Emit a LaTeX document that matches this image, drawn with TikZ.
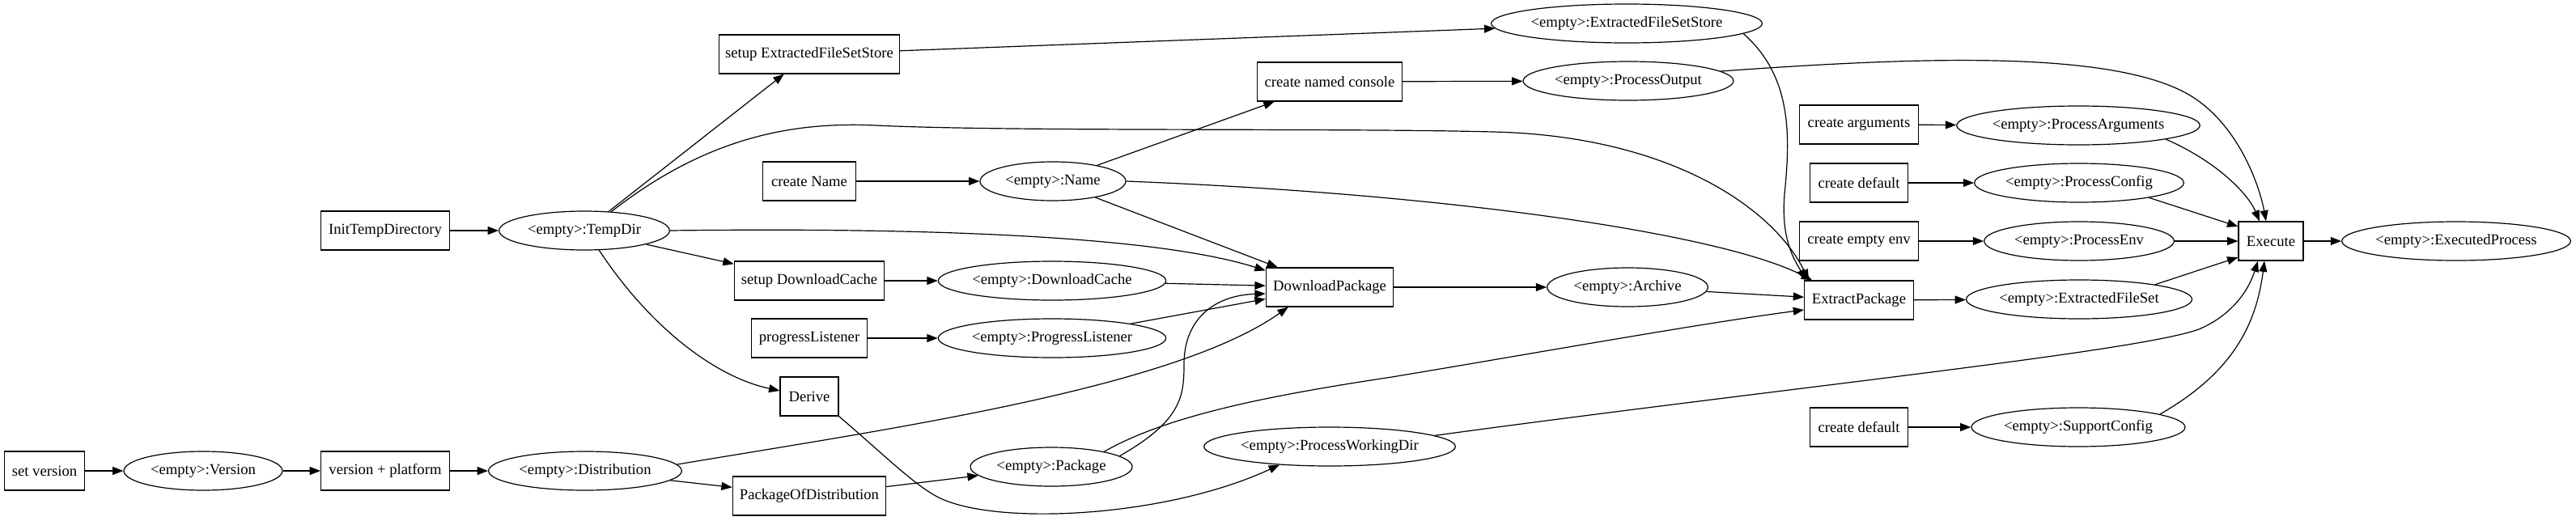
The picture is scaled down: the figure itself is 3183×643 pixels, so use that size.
\documentclass[tikz,border=0pt]{standalone}
\usepackage{fontspec}
\setmainfont{Liberation Serif}
\usetikzlibrary{shapes.geometric,arrows.meta,calc}
\begin{document}
\begin{tikzpicture}[x=0.75pt,y=-0.75pt,
  bx/.style={draw,rectangle,line width=0.9pt,minimum height=36pt,inner sep=0pt,font=\fontsize{14pt}{16pt}\selectfont},
  el/.style={draw,ellipse,line width=0.9pt,minimum height=36pt,inner sep=0pt,font=\fontsize{14pt}{16pt}\selectfont},
  arr/.style={line width=0.9pt,-{Triangle[length=10pt,width=7.5pt]}}]
\useasboundingbox (0,0) rectangle (3183,643);
% nodes
\node[bx,minimum width=74pt]  (sv)   at (55,582)   {set version};
\node[el,minimum width=147pt] (ver)  at (251,582)  {<empty>:Version};
\node[bx,minimum width=119pt] (vp)   at (476,582)  {version + platform};
\node[el,minimum width=179pt] (dist) at (723,582)  {<empty>:Distribution};
\node[bx,minimum width=119pt] (itd)  at (476,285)  {InitTempDirectory};
\node[el,minimum width=158pt] (tmp)  at (722,285)  {<empty>:TempDir};
\node[bx,minimum width=167pt] (sefs) at (1000,67)  {setup ExtractedFileSetStore};
\node[bx,minimum width=86pt]  (cn)   at (1000,224) {create Name};
\node[bx,minimum width=139pt] (sdc)  at (1000,347) {setup DownloadCache};
\node[bx,minimum width=107pt] (pl)   at (1000,418) {progressListener};
\node[bx,minimum width=54pt]  (der)  at (1000,490) {Derive};
\node[bx,minimum width=142pt] (pod)  at (1000,613) {PackageOfDistribution};
\node[el,minimum width=135pt] (name) at (1301,224) {<empty>:Name};
\node[el,minimum width=211pt] (dc)   at (1300,347) {<empty>:DownloadCache};
\node[el,minimum width=211pt] (pli)  at (1300,418) {<empty>:ProgressListener};
\node[el,minimum width=150pt] (pkg)  at (1299,577) {<empty>:Package};
\node[bx,minimum width=134pt] (cnc)  at (1643,101) {create named console};
\node[el,minimum width=195pt] (po)   at (2012,100) {<empty>:ProcessOutput};
\node[el,minimum width=248pt] (efss) at (2010,29)  {<empty>:ExtractedFileSetStore};
\node[bx,minimum width=118pt] (dp)   at (1643,355) {DownloadPackage};
\node[el,minimum width=149pt] (arc)  at (2011,355) {<empty>:Archive};
\node[el,minimum width=233pt] (pwd)  at (1643,552) {<empty>:ProcessWorkingDir};
\node[bx,minimum width=101pt] (ep)   at (2297,371) {ExtractPackage};
\node[bx,minimum width=110pt] (ca)   at (2297,154) {create arguments};
\node[bx,minimum width=91pt]  (cd1)  at (2297,226) {create default};
\node[bx,minimum width=110pt] (cee)  at (2297,298) {create empty env};
\node[bx,minimum width=91pt]  (cd2)  at (2297,528) {create default};
\node[el,minimum width=224pt] (pa)   at (2568,155) {<empty>:ProcessArguments};
\node[el,minimum width=194pt] (pc)   at (2569,226) {<empty>:ProcessConfig};
\node[el,minimum width=176pt] (pe)   at (2569,298) {<empty>:ProcessEnv};
\node[el,minimum width=209pt] (efs)  at (2569,370) {<empty>:ExtractedFileSet};
\node[el,minimum width=198pt] (sc)   at (2568,528) {<empty>:SupportConfig};
\node[bx,minimum width=60pt]  (ex)   at (2806,298) {Execute};
\node[el,minimum width=212pt] (exp)  at (3035,298) {<empty>:ExecutedProcess};
% straight edges
\draw[arr] (sv) -- (ver);
\draw[arr] (ver) -- (vp);
\draw[arr] (vp) -- (dist);
\draw[arr] (dist) -- (pod);
\draw[arr] (itd) -- (tmp);
\draw[arr] (tmp) -- (sefs);
\draw[arr] (tmp) -- (sdc);
\draw[arr] (cn) -- (name);
\draw[arr] (name) -- (cnc);
\draw[arr] (name) -- (dp);
\draw[arr] (sdc) -- (dc);
\draw[arr] (dc) -- (dp);
\draw[arr] (pl) -- (pli);
\draw[arr] (pli) -- (dp);
\draw[arr] (pod) -- (pkg);
\draw[arr] (cnc) -- (po);
\draw[arr] (sefs) -- (efss);
\draw[arr] (dp) -- (arc);
\draw[arr] (arc) -- (ep);
\draw[arr] (ep) -- (efs);
\draw[arr] (ca) -- (pa);
\draw[arr] (cd1) -- (pc);
\draw[arr] (cee) -- (pe);
\draw[arr] (cd2) -- (sc);
\draw[arr] (pe) -- (ex);
\draw[arr] (ex) -- (exp);
\draw[arr] (pc.-12) -- ($(ex.west)+(0,-18)$);
\draw[arr] (efs.11) -- ($(ex.west)+(0,20)$);
% curved edges
\draw[arr] (tmp.east) .. controls (1150,281) and (1430,292) .. ($(dp.north west)+(0,4)$);
\draw[arr] (tmp.-53) .. controls (800,400) and (880,465) .. ($(der.west)+(0,-7)$);
\draw[arr] (tmp.35) .. controls (870,172) and (975,150) .. (1082,155)
   .. controls (1250,163) and (1650,158) .. (1845,163)
   .. controls (2060,168) and (2190,255) .. ($(ep.north west)+(6,0)$);
\draw[arr] (efss.-5.5) .. controls (2215,95) and (2212,170) .. (2205,240)
   .. controls (2200,300) and (2220,325) .. ($(ep.north west)+(2,0)$);
\draw[arr] (name.east) .. controls (1800,240) and (2130,290) .. ($(ep.north west)+(10,0)$);
\draw[arr] (dist.4.5) .. controls (1100,530) and (1450,480) .. ($(dp.south west)+(28,0)$);
\draw[arr] (pkg.9) .. controls (1460,520) and (1463,490) .. (1463,450)
   .. controls (1463,395) and (1500,365) .. ($(dp.west)+(0,8)$);
\draw[arr] (pkg.16) .. controls (1440,515) and (1560,490) .. (1720,466)
   .. controls (1900,436) and (2100,400) .. ($(ep.west)+(0,12)$);
\draw[arr] (der.south east) .. controls (1090,560) and (1130,600) .. (1160,615)
   .. controls (1230,650) and (1440,640) .. (pwd.200);
\draw[arr] (po.6) .. controls (2350,72) and (2600,60) .. (2701,115)
   .. controls (2765,150) and (2792,230) .. ($(ex.north)+(-6,0)$);
\draw[arr] (pa.-9) .. controls (2740,200) and (2778,240) .. ($(ex.north)+(-14,0)$);
\draw[arr] (pwd.6.3) .. controls (2200,480) and (2640,435) .. (2717,407)
   .. controls (2757,390) and (2778,360) .. ($(ex.south)+(-16,0)$);
\draw[arr] (sc.9) .. controls (2760,460) and (2788,400) .. ($(ex.south)+(-8,0)$);
\end{tikzpicture}
\end{document}
